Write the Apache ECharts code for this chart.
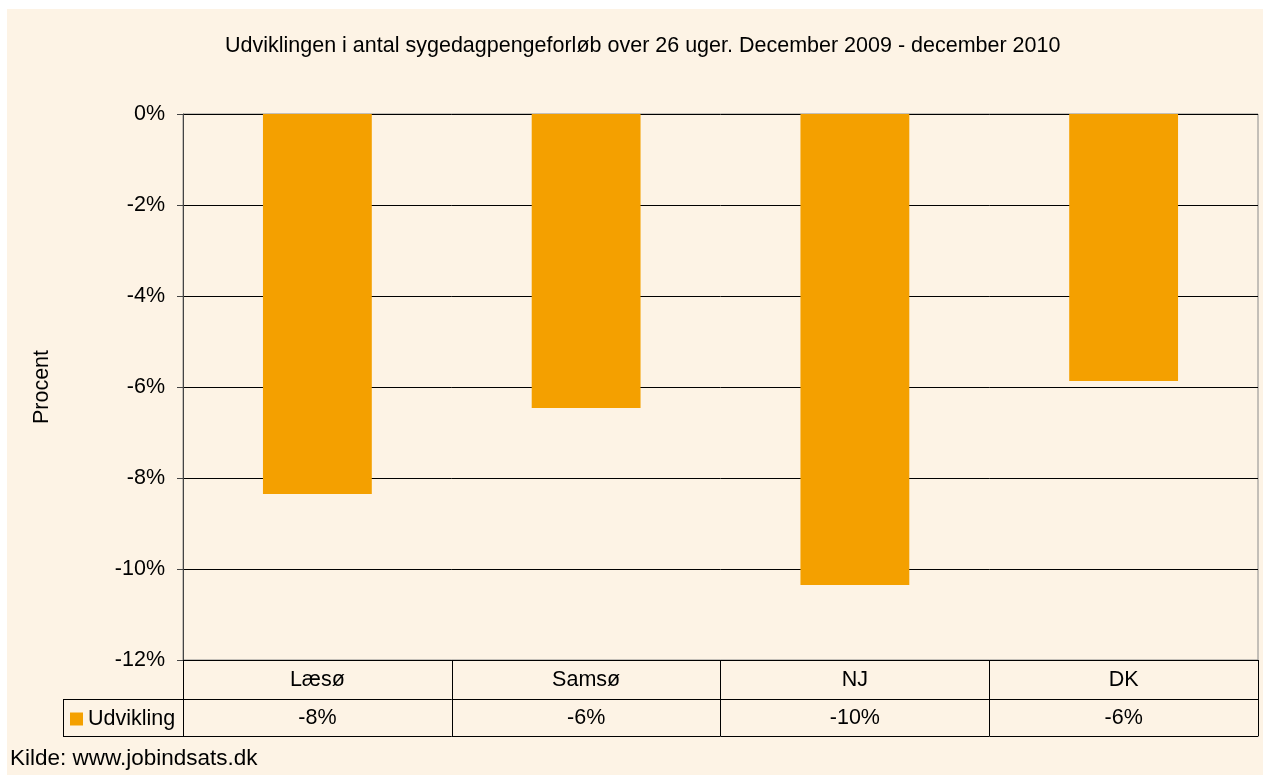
<!DOCTYPE html>
<html>
<head>
<meta charset="utf-8">
<script src="https://cdn.jsdelivr.net/npm/echarts@6/dist/echarts.min.js"></script>
<style>
  html, body { margin: 0; padding: 0; background: #ffffff; }
  #chart { position: absolute; left: 7px; top: 9px; width: 1256px; height: 766px; }
</style>
</head>
<body>
<div id="chart"></div>
<script>
// data
var categories = ['Læsø', 'Samsø', 'NJ', 'DK'];
var udvikling = [-8.35, -6.46, -10.35, -5.87];
var tableLabels = ['-8%', '-6%', '-10%', '-6%'];
var yTicks = { min: -12, max: 0, step: 2 };

var FONT = '"Liberation Sans", Arial, sans-serif';
var FS = 21.5;
var TXT = '#000';

var myChart = echarts.init(document.getElementById('chart'));
var option = {
    backgroundColor: '#FDF3E5',
    animation: false,
    textStyle: { fontFamily: FONT },
    title: [{
        text: 'Udviklingen i antal sygedagpengeforløb over 26 uger. December 2009 - december 2010',
        left: 218,
        top: 26,
        padding: 0,
        textStyle: { fontFamily: FONT, fontSize: FS, fontWeight: 'normal', color: TXT }
    }, {
        text: 'Kilde: www.jobindsats.dk',
        left: 3,
        top: 738,
        padding: 0,
        textStyle: { fontFamily: FONT, fontSize: 22.5, fontWeight: 'normal', color: TXT }
    }],
    legend: {
        data: ['Udvikling'],
        left: 63,
        top: 699,
        padding: 0,
        icon: 'rect',
        itemWidth: 13,
        itemHeight: 13,
        itemGap: 5,
        textStyle: { fontFamily: FONT, fontSize: FS, color: TXT, padding: [0, 0, 0, 0] }
    },
    grid: {
        left: 176, right: 5, top: 105, bottom: 115,
        show: true,
        borderColor: '#8a8a8a',
        borderWidth: 1,
        backgroundColor: 'transparent'
    },
    xAxis: [{
        type: 'category',
        data: categories,
        position: 'bottom',
        axisLine: { onZero: false, lineStyle: { color: '#000', width: 1 } },
        axisTick: { show: true, length: 76, lineStyle: { color: '#000' } },
        axisLabel: { fontFamily: FONT, fontSize: FS, color: TXT, margin: 9 }
    }, {
        type: 'category',
        data: tableLabels,
        position: 'bottom',
        offset: 39,
        axisLine: { show: true, onZero: false, lineStyle: { color: '#000' } },
        axisTick: { show: false },
        axisLabel: { fontFamily: FONT, fontSize: FS, color: TXT, margin: 8 }
    }, {
        type: 'category',
        data: tableLabels,
        position: 'bottom',
        offset: 76,
        axisLine: { show: true, onZero: false, lineStyle: { color: '#000' } },
        axisTick: { show: false },
        axisLabel: { show: false }
    }],
    yAxis: {
        type: 'value',
        min: yTicks.min,
        max: yTicks.max,
        interval: yTicks.step,
        name: 'Procent',
        nameLocation: 'middle',
        nameGap: 130,
        nameTextStyle: { fontFamily: FONT, fontSize: FS, color: TXT },
        axisLine: { show: true, lineStyle: { color: '#444', width: 1 } },
        axisTick: { show: true, length: 6, lineStyle: { color: '#444' } },
        axisLabel: { fontFamily: FONT, fontSize: FS, color: TXT, margin: 18, formatter: '{value}%' },
        splitLine: { show: true, lineStyle: { color: '#000', width: 1 } }
    },
    graphic: [{
        // legend cell of the data table
        type: 'line',
        shape: { x1: 56.5, y1: 690, x2: 56.5, y2: 727 },
        style: { stroke: '#000', lineWidth: 1 }
    }, {
        type: 'line',
        shape: { x1: 56, y1: 690.5, x2: 176, y2: 690.5 },
        style: { stroke: '#000', lineWidth: 1 }
    }, {
        type: 'line',
        shape: { x1: 56, y1: 727.5, x2: 176, y2: 727.5 },
        style: { stroke: '#000', lineWidth: 1 }
    }],
    series: [{
        name: 'Udvikling',
        type: 'bar',
        data: udvikling,
        barWidth: '40.5%',
        itemStyle: { color: '#F4A000' }
    }]
};
myChart.setOption(option);
</script>
</body>
</html>
